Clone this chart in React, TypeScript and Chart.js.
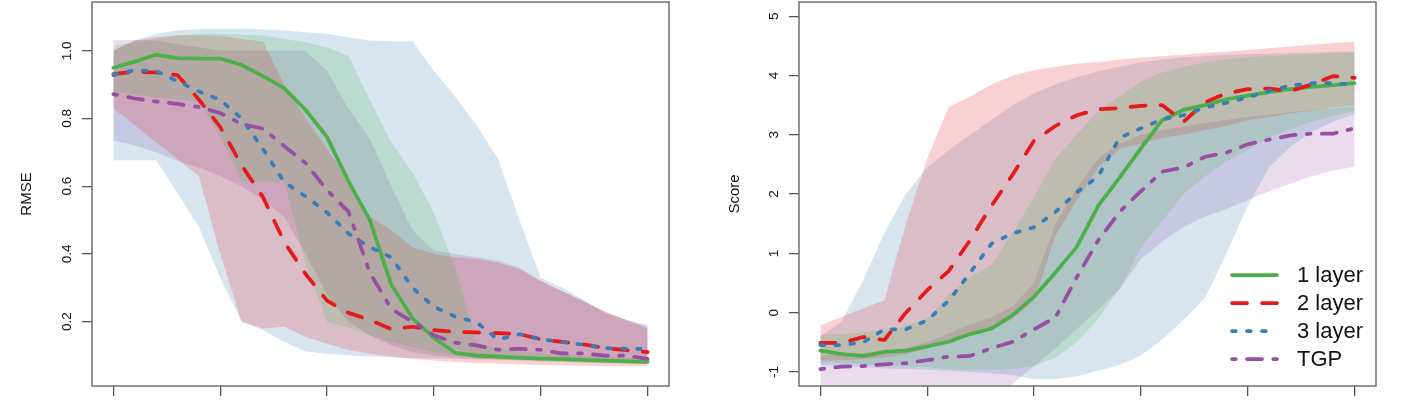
import { useEffect, useRef } from 'react';
import Chart from 'chart.js/auto';

// x positions (26 steps, ticks every 5)
const steps = [0, 1, 2, 3, 4, 5, 6, 7, 8, 9, 10, 11, 12, 13, 14, 15, 16, 17, 18, 19, 20, 21, 22, 23, 24, 25];
const xTicks = [0, 5, 10, 15, 20, 25];
const rmseTicks = [0.2, 0.4, 0.6, 0.8, 1.0];
const scoreTicks = [-1, 0, 1, 2, 3, 4, 5];

const seriesNames = ['1 layer', '2 layer', '3 layer', 'TGP'];
const seriesColors = ['#4DAF4A', '#E41A1C', '#377EB8', '#984EA3'];
const bandColors = ['rgba(77,175,74,0.2)', 'rgba(228,26,28,0.2)', 'rgba(55,126,184,0.2)', 'rgba(152,78,163,0.2)'];
const dashes = [[], [15, 15], [3.75, 11.25], [3.75, 11.25, 15, 11.25]];

// left panel: RMSE
const rmseOne = [0.95, 0.968, 0.988, 0.978, 0.977, 0.977, 0.958, 0.925, 0.889, 0.825, 0.745, 0.615, 0.5, 0.31, 0.21, 0.152, 0.108, 0.1, 0.097, 0.094, 0.091, 0.089, 0.087, 0.085, 0.083, 0.081];
const rmseTwo = [0.931, 0.938, 0.936, 0.928, 0.856, 0.775, 0.662, 0.568, 0.435, 0.34, 0.262, 0.226, 0.205, 0.178, 0.185, 0.175, 0.17, 0.168, 0.166, 0.163, 0.148, 0.14, 0.133, 0.122, 0.116, 0.11];
const rmseThree = [0.928, 0.943, 0.94, 0.91, 0.88, 0.855, 0.8, 0.71, 0.612, 0.57, 0.522, 0.46, 0.42, 0.39, 0.3, 0.244, 0.215, 0.198, 0.147, 0.163, 0.148, 0.14, 0.132, 0.122, 0.12, 0.12];
const rmseTgp = [0.872, 0.859, 0.85, 0.843, 0.834, 0.816, 0.784, 0.77, 0.718, 0.668, 0.588, 0.525, 0.345, 0.238, 0.2, 0.16, 0.138, 0.13, 0.117, 0.12, 0.117, 0.106, 0.106, 0.1, 0.1, 0.09];

const rmseOneLo = [0.879, 0.87, 0.862, 0.856, 0.85, 0.75, 0.615, 0.613, 0.613, 0.37, 0.2, 0.183, 0.16, 0.14, 0.125, 0.11, 0.1, 0.093, 0.088, 0.085, 0.083, 0.081, 0.079, 0.078, 0.077, 0.076];
const rmseOneHi = [1.015, 1.025, 1.035, 1.045, 1.05, 1.05, 1.048, 1.045, 1.035, 1.025, 1.01, 0.985, 0.855, 0.73, 0.64, 0.52, 0.36, 0.14, 0.12, 0.112, 0.106, 0.102, 0.099, 0.097, 0.095, 0.093];
const rmseTwoLo = [0.83, 0.78, 0.73, 0.68, 0.63, 0.4, 0.2, 0.18, 0.185, 0.155, 0.135, 0.116, 0.105, 0.097, 0.09, 0.085, 0.081, 0.078, 0.076, 0.074, 0.072, 0.071, 0.07, 0.069, 0.068, 0.068];
const rmseTwoHi = [1.0, 1.03, 1.04, 1.046, 1.046, 1.044, 1.035, 1.027, 0.9, 0.8, 0.71, 0.62, 0.51, 0.47, 0.42, 0.4, 0.39, 0.385, 0.375, 0.355, 0.32, 0.29, 0.26, 0.23, 0.205, 0.18];
const rmseThreeLo = [0.677, 0.677, 0.677, 0.58, 0.48, 0.33, 0.2, 0.175, 0.14, 0.112, 0.105, 0.1, 0.097, 0.095, 0.093, 0.091, 0.09, 0.089, 0.088, 0.087, 0.086, 0.085, 0.084, 0.083, 0.082, 0.081];
const rmseThreeHi = [1.0, 1.03, 1.05, 1.06, 1.064, 1.065, 1.065, 1.063, 1.06, 1.055, 1.05, 1.04, 1.03, 1.028, 1.027, 0.94, 0.864, 0.78, 0.68, 0.5, 0.33, 0.3, 0.265, 0.225, 0.205, 0.19];
const rmseTgpLo = [0.736, 0.72, 0.7, 0.675, 0.655, 0.63, 0.6, 0.56, 0.51, 0.4, 0.28, 0.2, 0.16, 0.13, 0.11, 0.1, 0.095, 0.09, 0.088, 0.086, 0.084, 0.082, 0.08, 0.078, 0.077, 0.076];
const rmseTgpHi = [1.032, 1.032, 1.03, 1.02, 1.01, 1.0, 1.0, 1.0, 1.0, 1.0, 0.94, 0.83, 0.74, 0.6, 0.47, 0.41, 0.4, 0.39, 0.38, 0.36, 0.32, 0.29, 0.26, 0.23, 0.205, 0.185];

// right panel: Score
const scoreOne = [-0.64, -0.7, -0.73, -0.66, -0.64, -0.57, -0.49, -0.36, -0.27, -0.04, 0.27, 0.68, 1.11, 1.8, 2.28, 2.77, 3.25, 3.42, 3.5, 3.6, 3.66, 3.72, 3.77, 3.81, 3.84, 3.87];
const scoreTwo = [-0.51, -0.51, -0.41, -0.46, 0.0, 0.38, 0.7, 1.22, 1.8, 2.33, 2.9, 3.15, 3.33, 3.43, 3.45, 3.49, 3.5, 3.22, 3.55, 3.7, 3.77, 3.78, 3.74, 3.85, 3.99, 3.96];
const scoreThree = [-0.545, -0.545, -0.5, -0.28, -0.28, -0.13, 0.2, 0.67, 1.16, 1.34, 1.44, 1.7, 2.03, 2.3, 2.95, 3.11, 3.26, 3.33, 3.46, 3.54, 3.63, 3.74, 3.83, 3.87, 3.87, 3.84];
const scoreTgp = [-0.95, -0.91, -0.9, -0.87, -0.85, -0.8, -0.74, -0.73, -0.6, -0.49, -0.28, -0.08, 0.6, 1.22, 1.7, 2.05, 2.38, 2.45, 2.63, 2.7, 2.84, 2.92, 2.99, 3.02, 3.02, 3.11];

const scoreOneLo = [-0.83, -0.85, -0.87, -0.88, -0.9, -0.92, -0.95, -0.96, -0.96, -0.95, -0.9, -0.76, -0.5, -0.1, 0.4, 1.1, 1.55, 2.0, 2.3, 2.55, 2.75, 2.95, 3.1, 3.22, 3.32, 3.4];
const scoreOneHi = [-0.38, -0.36, -0.33, -0.3, -0.22, -0.1, 0.3, 0.6, 0.8, 1.35, 1.95, 2.6, 3.0, 3.4, 3.65, 3.9, 4.05, 4.15, 4.22, 4.27, 4.31, 4.33, 4.35, 4.36, 4.37, 4.38];
const scoreTwoLo = [-0.8, -0.8, -0.78, -0.75, -0.7, -0.6, -0.45, -0.38, -0.3, -0.1, 0.2, 1.3, 1.9, 2.45, 2.77, 2.85, 2.95, 3.0, 3.08, 3.15, 3.25, 3.3, 3.36, 3.41, 3.46, 3.5];
const scoreTwoHi = [-0.21, -0.07, 0.07, 0.21, 1.5, 2.6, 3.47, 3.64, 3.85, 4.0, 4.09, 4.15, 4.2, 4.23, 4.27, 4.3, 4.33, 4.35, 4.38, 4.4, 4.43, 4.46, 4.49, 4.52, 4.55, 4.57];
const scoreThreeLo = [-0.88, -0.9, -0.92, -0.94, -0.95, -0.96, -0.98, -1.0, -1.02, -1.05, -1.12, -1.12, -1.07, -0.98, -0.88, -0.72, -0.45, -0.12, 0.25, 1.0, 1.8, 2.45, 2.8, 3.05, 3.22, 3.35];
const scoreThreeHi = [-0.4, -0.15, 0.55, 1.35, 2.0, 2.45, 2.74, 3.0, 3.25, 3.5, 3.7, 3.85, 3.97, 4.07, 4.15, 4.22, 4.27, 4.31, 4.33, 4.35, 4.36, 4.37, 4.38, 4.39, 4.4, 4.41];
const scoreTgpLo = [-1.5, -1.5, -1.5, -1.5, -1.5, -1.48, -1.45, -1.42, -1.4, -1.2, -0.9, -0.6, -0.28, 0.05, 0.4, 0.9, 1.2, 1.45, 1.62, 1.75, 1.9, 2.05, 2.18, 2.3, 2.4, 2.46];
const scoreTgpHi = [-0.72, -0.7, -0.68, -0.65, -0.6, -0.5, -0.35, -0.2, -0.08, 0.1, 0.5, 1.5, 2.1, 2.6, 2.85, 3.0, 3.08, 3.14, 3.2, 3.25, 3.3, 3.34, 3.38, 3.42, 3.45, 3.48];

const FONT = '"Liberation Sans", Arial, Helvetica, sans-serif';
Chart.defaults.font.family = FONT;

type Panel = {
  lines: number[][];
  lows: number[][];
  highs: number[][];
  yMin: number;
  yMax: number;
  yTicks: number[];
  fmt: (v: number) => string;
  title: string;
  titlePad: number;
  axisWidth: number;
  legend: boolean;
};

const rmsePanel: Panel = {
  lines: [rmseOne, rmseTwo, rmseThree, rmseTgp],
  lows: [rmseOneLo, rmseTwoLo, rmseThreeLo, rmseTgpLo],
  highs: [rmseOneHi, rmseTwoHi, rmseThreeHi, rmseTgpHi],
  yMin: 0.01,
  yMax: 1.144,
  yTicks: rmseTicks,
  fmt: (v) => v.toFixed(1),
  title: 'RMSE',
  titlePad: 18,
  axisWidth: 92,
  legend: false,
};

const scorePanel: Panel = {
  lines: [scoreOne, scoreTwo, scoreThree, scoreTgp],
  lows: [scoreOneLo, scoreTwoLo, scoreThreeLo, scoreTgpLo],
  highs: [scoreOneHi, scoreTwoHi, scoreThreeHi, scoreTgpHi],
  yMin: -1.236,
  yMax: 5.24,
  yTicks: scoreTicks,
  fmt: (v) => String(v),
  title: 'Score',
  titlePad: 20,
  axisWidth: 93,
  legend: true,
};

const toPoints = (vals: number[]) => steps.map((x, i) => ({ x, y: vals[i] }));

function buildConfig(panel: Panel): any {
  const datasets: any[] = [];
  panel.lines.forEach((vals, k) => {
    datasets.push({
      label: seriesNames[k],
      data: toPoints(vals),
      borderColor: seriesColors[k],
      borderWidth: 3.75,
      borderDash: dashes[k],
      borderCapStyle: 'round',
      borderJoinStyle: 'round',
      pointRadius: 0,
      tension: 0,
      fill: false,
      order: 3 - k,
    });
  });
  panel.lows.forEach((lo, k) => {
    datasets.push({
      data: toPoints(lo),
      borderColor: 'rgba(0,0,0,0)',
      borderWidth: 0,
      pointRadius: 0,
      fill: false,
      order: 10,
    });
    datasets.push({
      data: toPoints(panel.highs[k]),
      borderColor: 'rgba(0,0,0,0)',
      borderWidth: 0,
      pointRadius: 0,
      fill: '-1',
      backgroundColor: bandColors[k],
      order: 10,
    });
  });

  // frame box + R-style rotated y tick labels
  const framePlugin = {
    id: 'frame',
    afterDraw(chart: any) {
      const { ctx, chartArea: a } = chart;
      const y = chart.scales.y;
      ctx.save();
      ctx.strokeStyle = '#666';
      ctx.lineWidth = 1.4;
      ctx.strokeRect(a.left, a.top, a.right - a.left, a.bottom - a.top);
      ctx.fillStyle = '#111';
      ctx.font = `13.5px ${FONT}`;
      ctx.textAlign = 'center';
      ctx.textBaseline = 'middle';
      panel.yTicks.forEach((v) => {
        ctx.save();
        ctx.translate(a.left - 25, y.getPixelForValue(v));
        ctx.rotate(-Math.PI / 2);
        ctx.fillText(panel.fmt(v), 0, 0);
        ctx.restore();
      });
      ctx.restore();
    },
  };

  const legendPlugin = {
    id: 'rlegend',
    afterDraw(chart: any) {
      if (!panel.legend) return;
      const { ctx, chartArea: a } = chart;
      ctx.save();
      ctx.font = `22px ${FONT}`;
      ctx.textBaseline = 'middle';
      ctx.textAlign = 'left';
      seriesNames.forEach((name, k) => {
        const ry = a.top + 273 + 28 * k;
        ctx.beginPath();
        ctx.strokeStyle = seriesColors[k];
        ctx.lineWidth = 3.75;
        ctx.lineCap = 'round';
        ctx.setLineDash(dashes[k]);
        ctx.moveTo(a.left + 433, ry);
        ctx.lineTo(a.left + 478, ry);
        ctx.stroke();
        ctx.setLineDash([]);
        ctx.fillStyle = '#111';
        ctx.fillText(name, a.left + 498, ry + 1);
      });
      ctx.restore();
    },
  };

  const tickGrid = {
    drawOnChartArea: false,
    drawTicks: true,
    tickLength: 10,
    color: '#555',
    lineWidth: 1.3,
  };

  return {
    type: 'line',
    data: { datasets },
    plugins: [framePlugin, legendPlugin],
    options: {
      responsive: false,
      animation: false,
      events: [],
      layout: { padding: { top: 2, right: 37, bottom: 0, left: 0 } },
      plugins: {
        legend: { display: false },
        tooltip: { enabled: false },
      },
      scales: {
        x: {
          type: 'linear',
          min: -1,
          max: 26,
          afterBuildTicks: (axis: any) => {
            axis.ticks = xTicks.map((v) => ({ value: v }));
          },
          afterFit: (axis: any) => {
            axis.height = 21;
          },
          ticks: { display: false },
          grid: tickGrid,
          border: { display: false },
        },
        y: {
          type: 'linear',
          min: panel.yMin,
          max: panel.yMax,
          afterBuildTicks: (axis: any) => {
            axis.ticks = panel.yTicks.map((v) => ({ value: v }));
          },
          afterFit: (axis: any) => {
            axis.width = panel.axisWidth;
          },
          ticks: { display: false },
          grid: tickGrid,
          border: { display: false },
          title: {
            display: true,
            text: panel.title,
            color: '#111',
            font: { size: 15 },
            padding: { top: panel.titlePad, bottom: 0 },
          },
        },
      },
    },
  };
}

const PanelChart = ({ panel, width }: { panel: Panel; width: number }) => {
  const canvasRef = useRef<HTMLCanvasElement | null>(null);

  useEffect(() => {
    if (!canvasRef.current) return;
    const chart = new Chart(canvasRef.current, buildConfig(panel));
    return () => {
      chart.destroy();
    };
  }, [panel]);

  return (
    <canvas
      ref={canvasRef}
      width={width}
      height={407}
      style={{ display: 'block', width, height: 407 }}
    ></canvas>
  );
};

export default function App() {
  return (
    <div
      style={{
        position: 'absolute',
        left: 0,
        top: 0,
        width: 1413,
        height: 407,
        display: 'flex',
        background: '#fff',
      }}
    >
      <PanelChart panel={rmsePanel} width={706} />
      <PanelChart panel={scorePanel} width={707} />
    </div>
  );
}
